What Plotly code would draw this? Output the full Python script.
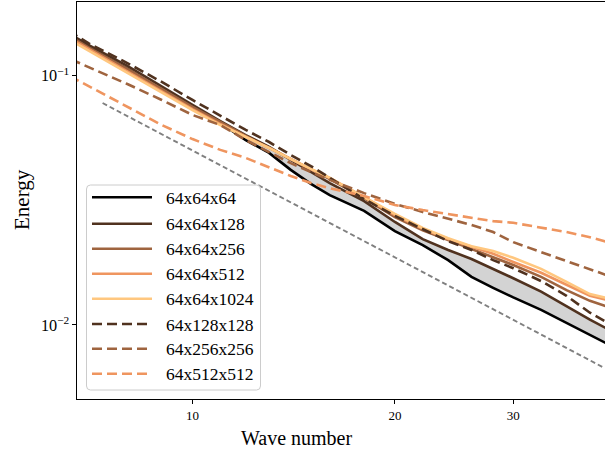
import plotly.graph_objects as go

# ---------------- data ----------------
k = [6, 7, 8, 9, 10, 11, 12, 13, 14, 15, 16, 18, 20, 22, 24, 26, 28, 30, 33, 36, 39, 42]

E_64x64x64 = [0.164, 0.130, 0.1064, 0.0876, 0.0749, 0.0646, 0.0552, 0.0490, 0.0419, 0.0368, 0.0332,
              0.0287, 0.0238, 0.0209, 0.0182, 0.0156, 0.0141, 0.0129, 0.0115, 0.0102, 0.00912, 0.00824]
E_64x64x128 = [0.169, 0.133, 0.1094, 0.0901, 0.0763, 0.0658, 0.0578, 0.0518, 0.0459, 0.0411, 0.0371,
               0.0314, 0.0259, 0.0221, 0.0200, 0.0184, 0.0168, 0.0154, 0.0136, 0.0119, 0.0105, 0.00946]
E_64x64x256 = [0.166, 0.130, 0.1064, 0.0884, 0.0749, 0.0652, 0.0573, 0.0513, 0.0463, 0.0422, 0.0385,
               0.0323, 0.0271, 0.0240, 0.0219, 0.0202, 0.0187, 0.0174, 0.0156, 0.0138, 0.0125, 0.0117]
E_64x64x512 = [0.163, 0.128, 0.1044, 0.0868, 0.0735, 0.0640, 0.0568, 0.0513, 0.0463, 0.0422, 0.0389,
               0.0326, 0.0276, 0.0243, 0.0221, 0.0206, 0.0193, 0.0179, 0.0162, 0.0145, 0.0131, 0.0125]
E_64x64x1024 = [0.160, 0.126, 0.1025, 0.0852, 0.0728, 0.0634, 0.0568, 0.0513, 0.0463, 0.0422, 0.0389,
                0.0326, 0.0279, 0.0245, 0.0223, 0.0207, 0.0198, 0.0186, 0.0168, 0.0149, 0.0133, 0.0127]
E_64x128x128 = [0.175, 0.135, 0.1124, 0.0944, 0.0799, 0.0689, 0.0606, 0.0542, 0.0481, 0.0434, 0.0389,
                0.0320, 0.0274, 0.0243, 0.0217, 0.0200, 0.0182, 0.0169, 0.0150, 0.0131, 0.0112, 0.0100]
E_64x256x256 = [0.130, 0.1084, 0.0926, 0.0799, 0.0696, 0.0634, 0.0552, 0.0494, 0.0446, 0.0411, 0.0382,
                0.0338, 0.0306, 0.0284, 0.0266, 0.0252, 0.0236, 0.0215, 0.0196, 0.0181, 0.0168, 0.0156]
E_64x512x512 = [0.1135, 0.0909, 0.0749, 0.0634, 0.0557, 0.0504, 0.0468, 0.0430, 0.0396, 0.0371, 0.0354,
                0.0329, 0.0303, 0.0289, 0.0279, 0.0269, 0.0261, 0.0257, 0.0245, 0.0236, 0.0225, 0.0213]

ref_k = [7.35, 41.0]
ref_E = [0.0777, 0.00672]

names = ["64x64x64", "64x64x128", "64x64x256", "64x64x512", "64x64x1024",
         "64x128x128", "64x256x256", "64x512x512"]
series = [E_64x64x64, E_64x64x128, E_64x64x256, E_64x64x512, E_64x64x1024,
          E_64x128x128, E_64x256x256, E_64x512x512]

x_ticks = [10, 20, 30]

# ---------------- styles ----------------
copper = ["#000000", "#50321f", "#9f643f", "#ef955f", "#ffc77f"]
colors = copper + [copper[1], copper[2], copper[3]]
dashes = ["solid"] * 5 + ["10px,5px"] * 3
LW = 2.6
FONT = "Liberation Serif"

fig = go.Figure()

# shaded band between the two coarsest runs
fig.add_trace(go.Scatter(x=k, y=E_64x64x64, mode="lines", line=dict(width=0, color="#d3d3d3"),
                         showlegend=False, hoverinfo="skip"))
fig.add_trace(go.Scatter(x=k, y=E_64x64x128, mode="lines", line=dict(width=0, color="#d3d3d3"),
                         fill="tonexty", fillcolor="#d3d3d3", showlegend=False, hoverinfo="skip"))

for nm, ys, c, d in zip(names, series, colors, dashes):
    fig.add_trace(go.Scatter(x=k, y=ys, mode="lines", name=nm,
                             line=dict(color=c, width=LW, dash=d), showlegend=False))

fig.add_trace(go.Scatter(x=ref_k, y=ref_E, mode="lines",
                         line=dict(color="#808080", width=1.9, dash="5px,3px"), showlegend=False))

# ---------------- axes ----------------
fig.update_xaxes(type="log", range=[0.82823, 1.61353], tickvals=x_ticks, ticktext=[str(v) for v in x_ticks],
                 ticks="outside", ticklen=4, tickwidth=1, tickcolor="black",
                 showline=True, linecolor="black", linewidth=1.2, mirror=True,
                 showgrid=False, zeroline=False,
                 tickfont=dict(family=FONT, size=13, color="black"))
fig.update_yaxes(type="log", range=[-2.29687, -0.70437], dtick=1, exponentformat="power",
                 ticks="outside", ticklen=4, tickwidth=1, tickcolor="black",
                 showline=True, linecolor="black", linewidth=1.2, mirror=False,
                 showgrid=False, zeroline=False,
                 tickfont=dict(family=FONT, size=13, color="black"))

# ---------------- custom legend ----------------
W, H = 605, 450
L, R, T, B = 77, 0, 2, 51
pw, ph = W - L - R, H - T - B

def px_x(p):
    return (p - L) / pw

def px_y(p):
    return (H - B - p) / ph

bx0, bx1, by0, by1 = px_x(86.5), px_y(0) * 0 + px_x(260.5), px_y(185), px_y(390)
rx, ry = 4 / pw, 4 / ph
path = (f"M {bx0+rx},{by0} L {bx1-rx},{by0} Q {bx1},{by0} {bx1},{by0-ry} "
        f"L {bx1},{by1+ry} Q {bx1},{by1} {bx1-rx},{by1} "
        f"L {bx0+rx},{by1} Q {bx0},{by1} {bx0},{by1+ry} "
        f"L {bx0},{by0-ry} Q {bx0},{by0} {bx0+rx},{by0} Z")
shapes = [dict(type="path", xref="paper", yref="paper", path=path,
               fillcolor="rgba(255,255,255,0.8)", line=dict(color="#cccccc", width=1), layer="above")]
annotations = []
row_y = [197.3, 223.7, 248.7, 273.7, 298.7, 324.0, 348.7, 373.7]
for nm, c, d, yy in zip(names, colors, dashes, row_y):
    shapes.append(dict(type="line", xref="paper", yref="paper",
                       x0=px_x(92), x1=px_x(152), y0=px_y(yy), y1=px_y(yy),
                       line=dict(color=c, width=LW, dash=d), layer="above"))
    annotations.append(dict(x=px_x(164), y=px_y(yy + 0.5), xref="paper", yref="paper", text=nm,
                            showarrow=False, xanchor="left", yanchor="middle",
                            font=dict(family=FONT, size=17.5, color="black")))

annotations.append(dict(x=px_x(296.5), y=px_y(438), xref="paper", yref="paper", text="Wave number",
                        showarrow=False, xanchor="center", yanchor="middle",
                        font=dict(family=FONT, size=20, color="black")))
annotations.append(dict(x=px_x(22), y=px_y(200), xref="paper", yref="paper", text="Energy",
                        showarrow=False, xanchor="center", yanchor="middle", textangle=-90,
                        font=dict(family=FONT, size=21, color="black")))

fig.update_layout(width=W, height=H, margin=dict(l=L, r=R, t=T, b=B),
                  paper_bgcolor="white", plot_bgcolor="white",
                  shapes=shapes, annotations=annotations, showlegend=False)

fig.write_html("out.html")
